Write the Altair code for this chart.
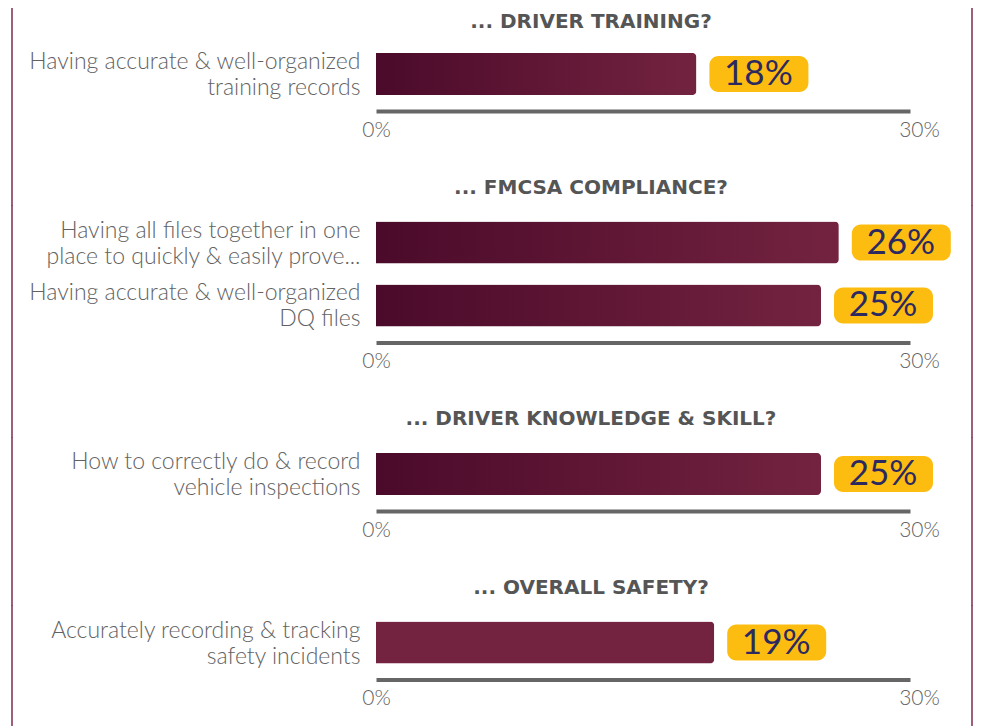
import altair as alt
import pandas as pd

sections = ["... DRIVER TRAINING?", "... FMCSA COMPLIANCE?",
            "... DRIVER KNOWLEDGE & SKILL?", "... OVERALL SAFETY?"]
items = [
    ["Having accurate & well-organized|training records"],
    ["Having all files together in one|place to quickly & easily prove...",
     "Having accurate & well-organized|DQ files"],
    ["How to correctly do & record|vehicle inspections"],
    ["Accurately recording & tracking|safety incidents"],
]
values = [[18], [26, 25], [25], [19]]
use_gradient = [True, True, True, False]
panel_heights = [74, 137, 74, 74]

FONT = "Lato"
TITLE_FONT = "DejaVu Sans"
MAROON_DARK = "#4b0a2a"
MAROON = "#73233f"
YELLOW = "#fdbd10"
NAVY = "#2b2960"
FRAME = "#7b2d4b"
GRAY = "#626262"

grad = alt.Gradient(
    gradient="linear",
    stops=[alt.GradientStop(color=MAROON_DARK, offset=0),
           alt.GradientStop(color=MAROON, offset=1)],
    x1=0, x2=1, y1=0, y2=0,
)

panels = []
for i, sec in enumerate(sections):
    df = pd.DataFrame({
        "label": items[i],
        "value": values[i],
        "text": [f"{v}%" for v in values[i]],
    })
    h = panel_heights[i]
    y = alt.Y("label:N", sort=None,
              scale=alt.Scale(paddingInner=0.333, paddingOuter=0.254),
              axis=alt.Axis(title=None, domain=False, ticks=False,
                            labelExpr="split(datum.label, '|')",
                            labelFontSize=23, labelColor=GRAY,
                            labelFont=FONT, labelFontWeight=300,
                            labelPadding=16, labelOffset=-12,
                            labelLineHeight=26, labelLimit=500))
    x = alt.X("value:Q", scale=alt.Scale(domain=[0, 30]),
              axis=alt.Axis(title=None, values=[0, 30], grid=False,
                            ticks=False, domainColor="#666666",
                            domainWidth=4,
                            labelExpr="datum.value + '%'",
                            labelFontSize=21, labelColor=GRAY,
                            labelFont=FONT, labelFontWeight=300,
                            labelPadding=8, labelFlush=False,
                            labelOffset={"condition": {"test": "datum.value == 30", "value": 9}, "value": 0}))
    base = alt.Chart(df)
    bars = base.mark_bar(
        color=grad if use_gradient[i] else MAROON,
        cornerRadiusEnd=4,
    ).encode(x=x, y=y)
    boxes = base.mark_bar(color=YELLOW, cornerRadius=9, height=36,
                          xOffset=13, x2Offset=112).encode(
        x="value:Q", x2="value:Q", y=alt.Y("label:N", sort=None))
    texts = base.mark_text(dx=62, align="center", baseline="middle",
                           fontSize=35, font=FONT, color=NAVY).encode(
        x="value:Q", y=alt.Y("label:N", sort=None), text="text:N")
    top = -29 if i == 0 else 0
    bottom = h + 95 if i < 3 else h + 120
    frame_df = pd.DataFrame({"f": [0]})
    left_rule = alt.Chart(frame_df).mark_rule(color=FRAME, strokeWidth=1.5).encode(
        x=alt.value(-364), y=alt.value(top), y2=alt.value(bottom))
    right_rule = alt.Chart(frame_df).mark_rule(color=FRAME, strokeWidth=1.5).encode(
        x=alt.value(596), y=alt.value(top), y2=alt.value(bottom))
    panel = alt.layer(bars, boxes, texts, left_rule, right_rule).properties(
        width=534, height=h,
        title=alt.Title(sec, fontSize=20, font=TITLE_FONT, fontWeight="bold",
                        color="#555555", anchor="middle", dx=-52,
                        offset=-25 if i == 0 else 7),
    )
    panels.append(panel)

chart = alt.vconcat(*panels, spacing=94.5, bounds="flush").properties(
    padding={"left": 3, "top": -1, "right": 0, "bottom": 0}
).configure(background="white").configure_view(strokeWidth=0, strokeOpacity=0)

chart.save("out.html", embed_options={"renderer": "svg", "actions": False})
